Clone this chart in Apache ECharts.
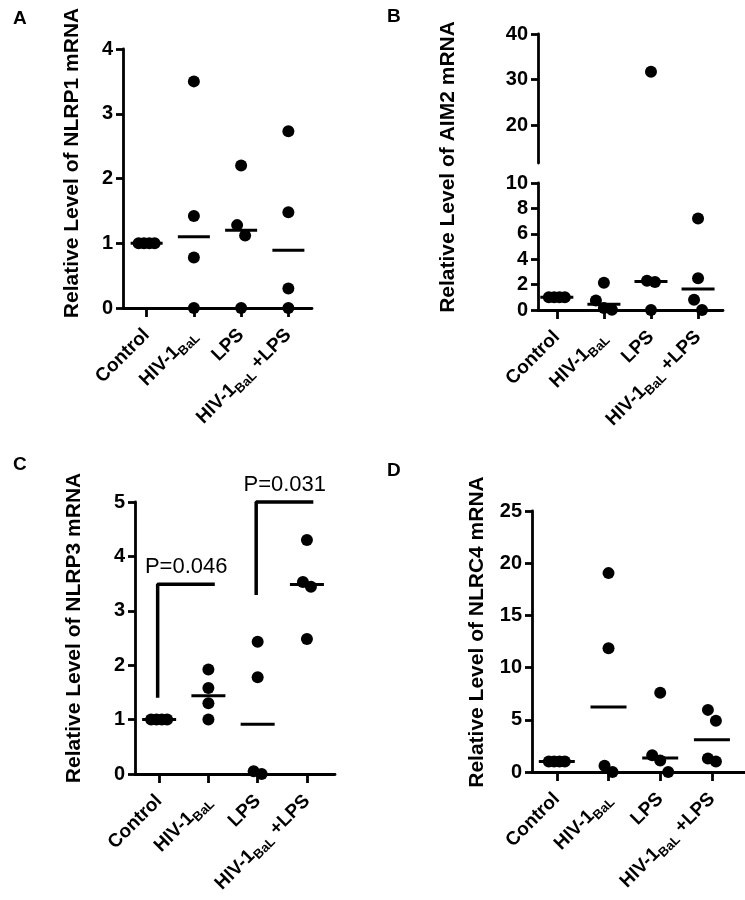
<!DOCTYPE html>
<html><head><meta charset="utf-8">
<script src="https://cdn.jsdelivr.net/npm/echarts@6/dist/echarts.min.js"></script>
<style>html,body{margin:0;padding:0;background:#fff}#c{width:745px;height:900px}</style>
</head><body><div id="c"></div>
<script>
// ---------- data ----------
const categories = ['Control', 'HIV-1BaL', 'LPS', 'HIV-1BaL +LPS'];
const nlrp1 = [[1, 1, 1, 1], [3.5, 1.42, 0.78, 0], [2.2, 1.28, 1.12, 0], [2.73, 1.48, 0.3, 0]];
const aim2 = [[1, 1, 1, 1], [2.15, 0.75, 0.15, 0.02], [31.7, 2.3, 2.2, 0], [7.2, 2.5, 0.8, 0]];
const nlrp3 = [[1, 1, 1, 1], [1.92, 1.58, 1.3, 1.0], [2.43, 1.78, 0.05, 0], [4.3, 3.53, 3.44, 2.48]];
const nlrc4 = [[1, 1, 1, 1], [19.05, 11.85, 0.6, 0], [7.6, 1.6, 1.1, 0], [5.95, 4.9, 1.3, 1.0]];
const ticksA = [0, 1, 2, 3, 4];
const ticksBLow = [0, 2, 4, 6, 8, 10];
const ticksBHigh = [20, 30, 40];
const ticksC = [0, 1, 2, 3, 4, 5];
const ticksD = [0, 5, 10, 15, 20, 25];
const titles = ['Relative Level of NLRP1 mRNA', 'Relative Level of AIM2 mRNA', 'Relative Level of NLRP3 mRNA', 'Relative Level of NLRC4 mRNA'];
const pBrackets = [
  { from: 0, to: 1, low: 1.4, top: 3.49, text: 'P=0.046' },
  { from: 2, to: 3, low: 3.29, top: 5, text: 'P=0.031' }
];

// ---------- layout ----------
const FONT = "'Liberation Sans', Arial, Helvetica, sans-serif";
const DOT = 12;
const panels = [
  { letter: 'A', lx: 13, ly: 19, title: titles[0], tx: 72, ty: 163, data: nlrp1, xmin: -0.5, xmax: 3.5, medW: 32,
    segs: [{ left: 123, top: 49, width: 189, height: 259, ymin: 0, ymax: 4, ticks: ticksA, xaxis: true }] },
  { letter: 'B', lx: 387, ly: 17, title: titles[1], tx: 448, ty: 167, data: aim2, xmin: -0.4, xmax: 3.53, medW: 33,
    segs: [{ left: 538, top: 183, width: 185, height: 127, ymin: 0, ymax: 10, ticks: ticksBLow, xaxis: true },
           { left: 538, top: 34, width: 185, height: 129, ymin: 11.65, ymax: 40, ticks: ticksBHigh, xaxis: false }] },
  { letter: 'C', lx: 13, ly: 465, title: titles[2], tx: 74, ty: 628, data: nlrp3, xmin: -0.49, xmax: 3.57, medW: 34, brackets: pBrackets,
    segs: [{ left: 135, top: 502, width: 200, height: 272, ymin: 0, ymax: 5, ticks: ticksC, xaxis: true }] },
  { letter: 'D', lx: 387, ly: 471, title: titles[3], tx: 477, ty: 632, data: nlrc4, xmin: -0.48, xmax: 3.64, medW: 36,
    segs: [{ left: 532, top: 511, width: 213, height: 261, ymin: 0, ymax: 25, ticks: ticksD, xaxis: true }] }
];

function median(a) {
  const s = a.slice().sort((p, q) => p - q);
  const n = s.length;
  return n % 2 ? s[(n - 1) / 2] : (s[n / 2 - 1] + s[n / 2]) / 2;
}

const grid = [], xAxis = [], yAxis = [], series = [], graphic = [];
const lineStyle = { color: '#000', width: 2.8 };

panels.forEach(p => {
  const segIdx = [];
  p.segs.forEach(s => {
    const gi = grid.length;
    segIdx.push(gi);
    grid.push({ left: s.left, top: s.top, width: s.width, height: s.height, containLabel: false });
    xAxis.push({
      gridIndex: gi, type: 'value', min: p.xmin, max: p.xmax, show: s.xaxis,
      axisLine: { show: true, onZero: false, lineStyle },
      axisTick: { show: true, length: 9, lineStyle, customValues: [0, 1, 2, 3] },
      axisLabel: {
        customValues: [0, 1, 2, 3], rotate: 45, margin: 24, color: '#000',
        fontFamily: FONT, fontSize: 19, fontWeight: 'bold', lineHeight: 25,
        formatter: v => categories[v].replace('BaL', '{s|BaL}'),
        rich: { s: { fontFamily: FONT, fontSize: 13, fontWeight: 'bold', color: '#000', lineHeight: 13, verticalAlign: 'bottom' } }
      },
      splitLine: { show: false }
    });
    yAxis.push({
      gridIndex: gi, type: 'value', min: s.ymin, max: s.ymax,
      axisLine: { show: true, onZero: false, lineStyle },
      axisTick: { show: true, length: 7, lineStyle, customValues: s.ticks },
      axisLabel: { customValues: s.ticks, margin: 10, color: '#000', fontFamily: FONT, fontSize: 20, fontWeight: 'bold' },
      splitLine: { show: false }
    });
  });

  const pxPerX = p.segs[0].width / (p.xmax - p.xmin);
  const segOf = v => p.segs.findIndex(s => v >= s.ymin && v <= s.ymax);
  const pixY = v => { const s = p.segs[segOf(v)]; return s.top + s.height * (s.ymax - v) / (s.ymax - s.ymin); };

  const pts = p.segs.map(() => []);
  p.data.forEach((vals, ci) => {
    const sorted = vals.slice().sort((a, b) => b - a);
    // cluster overlapping dots and spread them horizontally
    const clusters = [];
    sorted.forEach(v => {
      const last = clusters[clusters.length - 1];
      if (last && Math.abs(pixY(v) - pixY(last[last.length - 1])) < DOT) last.push(v);
      else clusters.push([v]);
    });
    clusters.forEach(cl => {
      const n = cl.length;
      const sp = n === 2 ? 8 : 16 / Math.max(1, n - 1);
      cl.forEach((v, k) => {
        const off = (k - (n - 1) / 2) * sp;
        pts[segOf(v)].push([ci + off / pxPerX, v]);
      });
    });
  });
  pts.forEach((d, k) => {
    series.push({
      type: 'scatter', xAxisIndex: segIdx[k], yAxisIndex: segIdx[k], data: d, clip: false,
      symbol: 'circle', symbolSize: DOT, itemStyle: { color: '#000', opacity: 1 }, silent: true, z: 3
    });
  });
  // median lines
  series.push({
    type: 'scatter', xAxisIndex: segIdx[0], yAxisIndex: segIdx[0], clip: false,
    data: p.data.map((vals, ci) => [ci, median(vals)]),
    symbol: 'rect', symbolSize: [p.medW, 3], itemStyle: { color: '#000', opacity: 1 }, silent: true, z: 4
  });
  // significance brackets
  (p.brackets || []).forEach(b => {
    series.push({
      type: 'line', xAxisIndex: segIdx[0], yAxisIndex: segIdx[0], clip: false, symbol: 'none',
      data: [[b.from - 0.03, b.low], [b.from - 0.03, b.top], [b.to + 0.13, b.top]],
      lineStyle: { color: '#000', width: 3.5, opacity: 1 }, silent: true, z: 4
    });
    series.push({
      type: 'scatter', xAxisIndex: segIdx[0], yAxisIndex: segIdx[0], clip: false,
      data: [[(b.from + b.to + 0.1) / 2, b.top]], symbolSize: 0, itemStyle: { color: '#000', opacity: 1 },
      label: { show: true, position: 'top', distance: 6, formatter: b.text, color: '#000', opacity: 1, fontFamily: FONT, fontSize: 22 },
      silent: true
    });
  });

  graphic.push({
    type: 'text', x: p.tx, y: p.ty, rotation: Math.PI / 2,
    style: { text: p.title, fill: '#000', font: 'bold 21px ' + FONT, align: 'center', verticalAlign: 'middle' }
  });
  graphic.push({
    type: 'text', x: p.lx, y: p.ly,
    style: { text: p.letter, fill: '#000', font: 'bold 19px ' + FONT, align: 'left', verticalAlign: 'middle' }
  });
});

const chart = echarts.init(document.getElementById('c'), null, { renderer: 'canvas' });
chart.setOption({ animation: false, backgroundColor: '#fff', grid, xAxis, yAxis, series, graphic });
</script>
</body></html>
